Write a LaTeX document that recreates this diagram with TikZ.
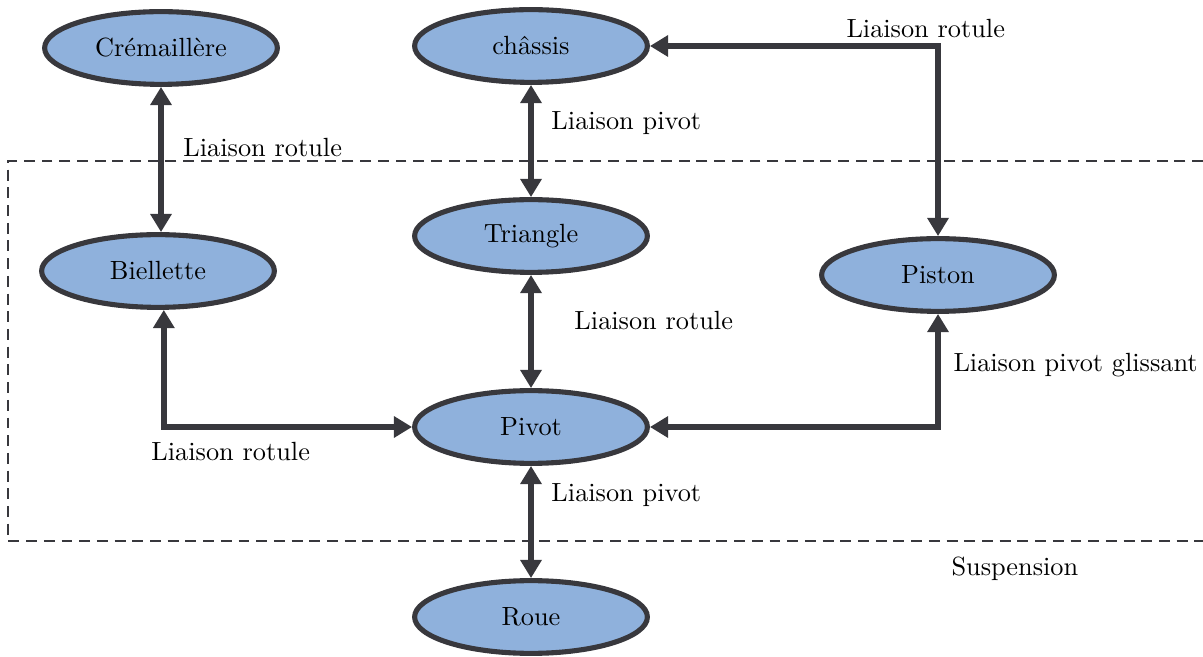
\documentclass[tikz,border=0pt]{standalone}
\usepackage{tikz}
\usetikzlibrary{shapes.geometric,arrows.meta}
\definecolor{cFill}{HTML}{8FB1DC}
\definecolor{cLine}{HTML}{38383D}
\tikzset{
  piece/.style={ellipse, draw=cLine, fill=cFill, line width=2.1pt,
    minimum width=96pt, minimum height=30pt, inner sep=0pt},
  liaison/.style={draw=cLine, line width=2.6pt,
    {Triangle[length=7.5pt,width=8.5pt]}-{Triangle[length=7.5pt,width=8.5pt]}},
  lbl/.style={anchor=base west, inner sep=0pt}
}

\begin{document}
\begin{tikzpicture}[x=0.4124pt,y=-0.4124pt,font=\fontsize{10.85}{13}\selectfont]
    \useasboundingbox (0,0) rectangle (1203,657);
    % --- --- --- Suspension box
    \draw[cLine, line width=1.1pt, dash pattern=on 4.5pt off 2.8pt] (1203,161) -- (8,161) -- (8,541) -- (1203,541);
    \node[lbl] (lSusp) at (951,575) {Suspension};
    % --- --- --- Pieces
    \node[piece] (crem) at (161,48) {Crémaillère};
    \node[piece] (chas) at (531,46) {châssis};
    \node[piece] (tri) at (531,236) {Triangle};
    \node[piece] (biel) at (158,271) {Biellette};
    \node[piece] (pist) at (938,275) {Piston};
    \node[piece] (piv) at (531,427) {Pivot};
    \node[piece] (roue) at (531,617) {Roue};
    % === === === Liaisons
    \draw[liaison] (crem) -- (crem |- biel.north);
    \draw[liaison] (chas) -- (tri);
    \draw[liaison] (tri) -- (piv);
    \draw[liaison] ([xshift=2.4pt]biel.south) |- (piv.west);
    \draw[liaison] (piv.east) -| (pist.south);
    \draw[liaison] (chas.east) -| (pist.north);
    \draw[liaison] (piv) -- (roue);
    % === === === Labels
    \node[lbl] (lCremBiel) at (183,157) {Liaison rotule};
    \node[lbl] (lChasTri) at (551,130) {Liaison pivot};
    \node[lbl] (lTriPiv) at (574,330) {Liaison rotule};
    \node[lbl] (lBielPiv) at (151,461) {Liaison rotule};
    \node[lbl] (lPivPist) at (953,372) {Liaison pivot glissant};
    \node[lbl] (lChasPist) at (846,38) {Liaison rotule};
    \node[lbl] (lPivRoue) at (551,501) {Liaison pivot};
\end{tikzpicture}
\end{document}
